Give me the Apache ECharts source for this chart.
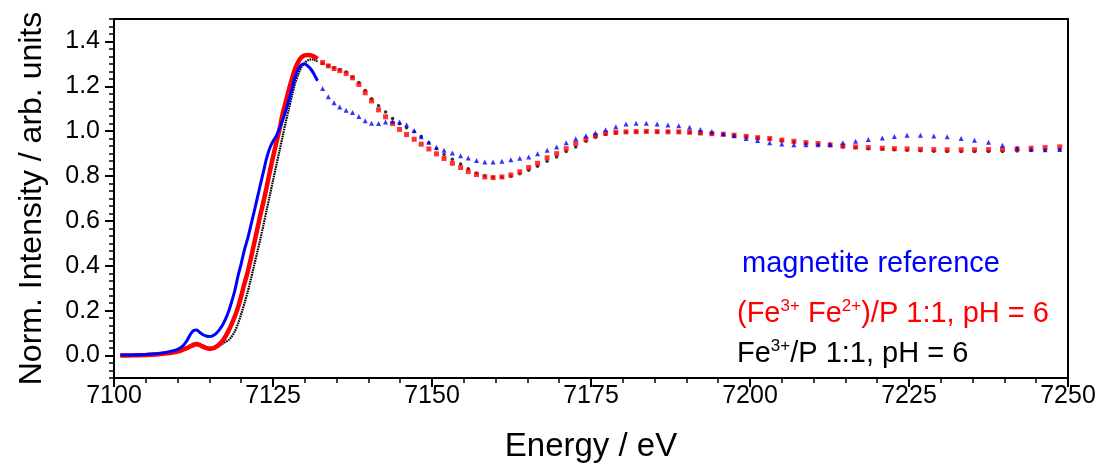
<!DOCTYPE html>
<html><head><meta charset="utf-8">
<script src="https://cdn.jsdelivr.net/npm/echarts@6/dist/echarts.min.js"></script>
<style>html,body{margin:0;padding:0;background:#fff}#c{width:1097px;height:470px}</style>
</head><body><div id="c"></div>
<script>
// ---- data ----
const edgeEnergy = [7101, 7103, 7105, 7107, 7108, 7109, 7110, 7110.5, 7111, 7111.5, 7112, 7112.5, 7113, 7113.5, 7114, 7114.5, 7115, 7115.5, 7116, 7116.5, 7117, 7117.5, 7118, 7118.5, 7119, 7119.5, 7120, 7120.5, 7121, 7121.5, 7122, 7122.5, 7123, 7123.5, 7124, 7124.5, 7125, 7125.5, 7126, 7126.5, 7127, 7127.5, 7128, 7128.5, 7129, 7129.5, 7130, 7130.5, 7131, 7131.5, 7132];
const edgeMagnetite = [0.002, 0.003, 0.005, 0.009, 0.013, 0.019, 0.028, 0.036, 0.048, 0.068, 0.094, 0.112, 0.114, 0.103, 0.093, 0.087, 0.085, 0.088, 0.097, 0.112, 0.133, 0.16, 0.195, 0.24, 0.29, 0.355, 0.41, 0.47, 0.52, 0.578, 0.637, 0.698, 0.76, 0.82, 0.88, 0.925, 0.955, 0.978, 1.01, 1.048, 1.09, 1.14, 1.19, 1.245, 1.278, 1.296, 1.30, 1.29, 1.275, 1.252, 1.225];
const edgeFe3Fe2 = [0, 0.001, 0.003, 0.006, 0.009, 0.012, 0.018, 0.022, 0.028, 0.034, 0.041, 0.047, 0.05, 0.046, 0.039, 0.033, 0.03, 0.032, 0.038, 0.048, 0.063, 0.084, 0.11, 0.14, 0.175, 0.215, 0.265, 0.32, 0.37, 0.43, 0.495, 0.56, 0.625, 0.685, 0.75, 0.82, 0.885, 0.945, 1.005, 1.075, 1.13, 1.185, 1.235, 1.28, 1.31, 1.33, 1.338, 1.34, 1.338, 1.332, 1.322];
const edgeFe3 = [0, 0.001, 0.003, 0.006, 0.009, 0.013, 0.02, 0.025, 0.031, 0.038, 0.046, 0.054, 0.057, 0.053, 0.045, 0.039, 0.035, 0.035, 0.038, 0.044, 0.052, 0.06, 0.068, 0.085, 0.108, 0.142, 0.185, 0.232, 0.282, 0.338, 0.398, 0.458, 0.518, 0.582, 0.648, 0.714, 0.78, 0.845, 0.91, 0.975, 1.04, 1.1, 1.16, 1.215, 1.255, 1.287, 1.305, 1.316, 1.32, 1.318, 1.31];

const exafsEnergy = [7132.8, 7133.7, 7134.6, 7135.5, 7136.5, 7137.5, 7138.5, 7139.5, 7140.5, 7141.6, 7142.7, 7143.8, 7144.9, 7146.0, 7147.2, 7148.3, 7149.5, 7150.7, 7151.9, 7153.2, 7154.5, 7155.7, 7157.0, 7158.3, 7159.6, 7161.0, 7162.4, 7163.8, 7165.2, 7166.6, 7168.1, 7169.6, 7171.1, 7172.6, 7174.2, 7175.7, 7177.3, 7178.9, 7180.5, 7182.1, 7183.7, 7185.4, 7187.1, 7188.8, 7190.5, 7192.2, 7194.0, 7195.8, 7197.5, 7199.4, 7201.2, 7203.1, 7205.0, 7206.9, 7208.8, 7210.7, 7212.6, 7214.6, 7216.6, 7218.6, 7220.8, 7222.7, 7224.7, 7226.8, 7228.9, 7231.0, 7233.2, 7235.3, 7237.5, 7239.7, 7242.0, 7244.2, 7246.4, 7248.7];
const exafsMagnetite = [1.19, 1.153, 1.127, 1.108, 1.093, 1.083, 1.065, 1.047, 1.035, 1.034, 1.041, 1.044, 1.041, 1.029, 1.003, 0.975, 0.951, 0.928, 0.915, 0.903, 0.891, 0.881, 0.869, 0.863, 0.863, 0.866, 0.873, 0.879, 0.885, 0.899, 0.915, 0.93, 0.949, 0.966, 0.98, 0.992, 1.006, 1.02, 1.032, 1.035, 1.035, 1.032, 1.028, 1.024, 1.017, 1.008, 0.999, 0.989, 0.98, 0.967, 0.959, 0.949, 0.943, 0.939, 0.939, 0.94, 0.942, 0.949, 0.955, 0.963, 0.97, 0.976, 0.982, 0.982, 0.979, 0.975, 0.967, 0.96, 0.951, 0.937, 0.925, 0.919, 0.917, 0.918];
const exafsFe3Fe2 = [1.306, 1.291, 1.279, 1.27, 1.257, 1.238, 1.208, 1.171, 1.135, 1.095, 1.064, 1.034, 1.008, 0.985, 0.964, 0.942, 0.921, 0.899, 0.878, 0.857, 0.838, 0.82, 0.807, 0.796, 0.793, 0.796, 0.805, 0.819, 0.838, 0.857, 0.881, 0.9, 0.922, 0.945, 0.964, 0.98, 0.991, 0.995, 0.997, 0.998, 0.999, 0.998, 0.997, 0.997, 0.995, 0.992, 0.989, 0.986, 0.982, 0.977, 0.971, 0.967, 0.96, 0.955, 0.949, 0.945, 0.939, 0.934, 0.93, 0.927, 0.924, 0.922, 0.921, 0.919, 0.918, 0.917, 0.917, 0.917, 0.918, 0.919, 0.921, 0.924, 0.927, 0.93];
const exafsFe3 = [1.302, 1.292, 1.283, 1.274, 1.264, 1.242, 1.217, 1.181, 1.145, 1.113, 1.086, 1.056, 1.033, 1.015, 0.997, 0.976, 0.949, 0.922, 0.896, 0.875, 0.854, 0.833, 0.814, 0.801, 0.795, 0.795, 0.799, 0.81, 0.826, 0.844, 0.866, 0.885, 0.91, 0.93, 0.955, 0.973, 0.985, 0.992, 0.995, 0.997, 0.998, 0.998, 0.997, 0.996, 0.994, 0.991, 0.988, 0.985, 0.981, 0.976, 0.97, 0.965, 0.958, 0.952, 0.946, 0.941, 0.935, 0.93, 0.926, 0.922, 0.919, 0.917, 0.915, 0.913, 0.911, 0.91, 0.909, 0.909, 0.909, 0.91, 0.912, 0.914, 0.916, 0.918];

const yTickValues = [0.0, 0.2, 0.4, 0.6, 0.8, 1.0, 1.2, 1.4];
const xAxisTitle = 'Energy / eV';
const yAxisTitle = 'Norm. Intensity / arb. units';

// ---- chart ----
const FONT = '"Liberation Sans", Arial, sans-serif';
const pairs = (xs, ys) => xs.map((x, i) => [x, ys[i]]);
const chart = echarts.init(document.getElementById('c'), null, {renderer: 'canvas'});

const lineSeries = (data, color, width, type, z) => ({
  type: 'line', data, showSymbol: false, smooth: 0.3, z, silent: true,
  lineStyle: {color, width, type}, animation: false
});
const dotSeries = (data, color, symbol, size, z) => ({
  type: 'scatter', data, symbol, symbolSize: size, z, silent: true,
  itemStyle: {color}, animation: false
});
const richText = (color) => ({
  m: {color, fontSize: 29, fontWeight: 'normal', fontFamily: FONT, lineHeight: 32},
  s: {color, fontSize: 17, fontWeight: 'normal', fontFamily: FONT, verticalAlign: 'top', lineHeight: 32}
});

chart.setOption({
  animation: false,
  backgroundColor: '#fff',
  grid: {left: 114, right: 29, top: 19, bottom: 92, show: true, borderColor: '#000', borderWidth: 2,
         containLabel: false, outerBoundsMode: 'none'},
  title: [
    {left: 742, top: 249, padding: 0, text: 'magnetite reference',
     textStyle: {color: '#0000ff', fontSize: 29, fontWeight: 'normal', fontFamily: FONT}},
    {left: 737, top: 298, padding: 0, text: '{m|(Fe}{s|3+}{m| Fe}{s|2+}{m|)/P 1:1, pH = 6}',
     textStyle: {fontWeight: 'normal', rich: richText('#ff0000')}},
    {left: 737, top: 338, padding: 0, text: '{m|Fe}{s|3+}{m|/P 1:1, pH = 6}',
     textStyle: {fontWeight: 'normal', rich: richText('#000000')}}
  ],
  xAxis: {
    type: 'value', min: 7100, max: 7250, interval: 25, position: 'bottom',
    name: xAxisTitle, nameLocation: 'middle', nameGap: 52,
    nameTextStyle: {fontSize: 33, color: '#000', fontFamily: FONT},
    axisLine: {show: true, onZero: false, lineStyle: {color: '#000', width: 2}},
    axisTick: {show: true, inside: false, length: 9, lineStyle: {color: '#000', width: 2}},
    minorTick: {show: true, splitNumber: 5, length: 5, lineStyle: {color: '#000', width: 1.5}},
    axisLabel: {fontSize: 25, color: '#000', fontFamily: FONT, margin: 6, formatter: v => String(v)},
    splitLine: {show: false}
  },
  yAxis: [
    {type: 'value', min: -0.1, max: 1.5, position: 'left',
     name: yAxisTitle, nameLocation: 'middle', nameGap: 66,
     nameTextStyle: {fontSize: 32, color: '#000', fontFamily: FONT},
     axisLine: {show: true, onZero: false, lineStyle: {color: '#000', width: 2}},
     axisTick: {show: true, length: 9, customValues: yTickValues, lineStyle: {color: '#000', width: 2}},
     axisLabel: {fontSize: 25, color: '#000', fontFamily: FONT, margin: 14,
                 customValues: yTickValues, formatter: v => v.toFixed(1)},
     splitLine: {show: false}},
    {type: 'value', min: -0.1, max: 1.5, interval: 1 / 30, position: 'left',
     axisLine: {show: false, onZero: false}, axisLabel: {show: false}, splitLine: {show: false},
     axisTick: {show: true, length: 5, lineStyle: {color: '#000', width: 1.5}}}
  ],
  series: [
    lineSeries(pairs(edgeEnergy, edgeFe3), '#000000', 2.2, [1.6, 0.8], 2),
    lineSeries(pairs(edgeEnergy, edgeFe3Fe2), '#ff0000', 4.5, 'solid', 3),
    lineSeries(pairs(edgeEnergy, edgeMagnetite), '#0000ff', 3, 'solid', 4),
    dotSeries(pairs(exafsEnergy, exafsFe3), '#000000', 'circle', 3.5, 2),
    dotSeries(pairs(exafsEnergy, exafsFe3Fe2), '#ff0000', 'rect', 5, 3),
    dotSeries(pairs(exafsEnergy, exafsMagnetite), '#0000ff', 'triangle', 5, 4)
  ]
});
</script>
</body></html>
